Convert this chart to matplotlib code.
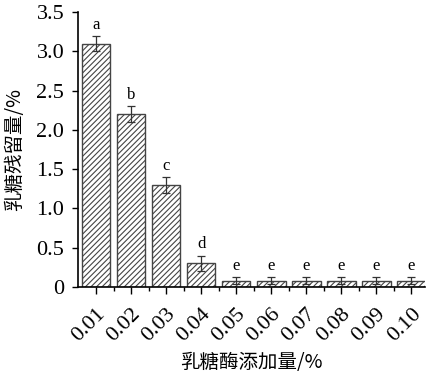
import matplotlib
matplotlib.use("Agg")
import matplotlib.pyplot as plt
import numpy as np

# enzyme dose (%) vs lactose residue (%)
doses = ["0.01", "0.02", "0.03", "0.04", "0.05", "0.06", "0.07", "0.08", "0.09", "0.10"]
residue = [3.10, 2.20, 1.30, 0.30, 0.08, 0.08, 0.08, 0.08, 0.08, 0.08]
errors = [0.10, 0.10, 0.10, 0.10, 0.04, 0.04, 0.04, 0.04, 0.04, 0.04]
letters = ["a", "b", "c", "d", "e", "e", "e", "e", "e", "e"]

serif = ["Liberation Serif", "DejaVu Serif"]
cjk = ["Noto Sans CJK SC", "DejaVu Sans"]
plt.rcParams['hatch.linewidth'] = 0.8

fig = plt.figure(figsize=(4.34, 3.79), dpi=100)
ax = fig.add_axes([0.18, 0.243, 0.80, 0.725])

x = np.arange(len(doses))
ax.bar(x, residue, width=0.82, color="white", edgecolor="#444444",
       hatch="//////", linewidth=1.0)
ax.errorbar(x, residue, yerr=errors, fmt="none", ecolor="#333333",
            elinewidth=0.9, capsize=3, capthick=0.9)

for xi, v, e, lab in zip(x, residue, errors, letters):
    ax.text(xi, v + e + 0.04, lab, ha="center", va="bottom",
            fontsize=12, family=serif)

ax.set_xlim(-0.51, 9.4)
ax.set_ylim(0, 3.5)
ax.set_yticks([0, 0.5, 1.0, 1.5, 2.0, 2.5, 3.0, 3.5])
ax.set_yticklabels(["0", "0.5", "1.0", "1.5", "2.0", "2.5", "3.0", "3.5"],
                   family=serif, fontsize=16)
ax.set_xticks(x)
ax.set_xticklabels(doses, rotation=45, ha="right", rotation_mode="anchor",
                   family=serif, fontsize=16)
ax.set_xticks(x[:-1] + 0.5, minor=True)
ax.tick_params(axis="x", which="major", direction="out", length=5, width=1, pad=8)
ax.tick_params(axis="x", which="minor", direction="out", length=3, width=1)
ax.tick_params(axis="y", direction="out", length=4, width=1, pad=6)

ax.spines["top"].set_visible(False)
ax.spines["right"].set_visible(False)
ax.spines["left"].set_linewidth(1.2)
ax.spines["bottom"].set_linewidth(1.2)

ax.set_ylabel("乳糖残留量/%", family=cjk, fontsize=14, labelpad=8)
ax.set_xlabel("乳糖酶添加量/%", family=cjk, fontsize=14, labelpad=4)

fig.savefig("out.png", dpi=100)
